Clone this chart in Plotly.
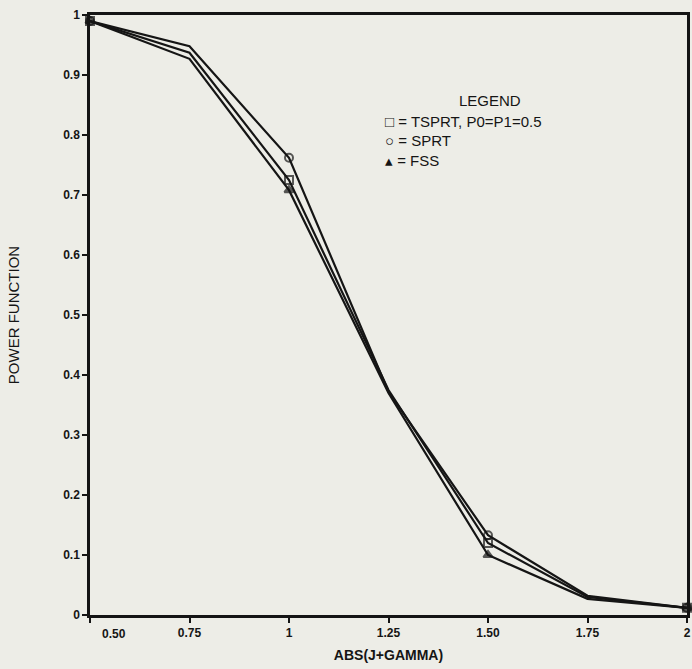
import plotly.graph_objects as go

# Power function of the three test procedures versus |J + GAMMA|
x_vals = [0.5, 0.75, 1.0, 1.25, 1.5, 1.75, 2.0]
tsprt = [0.99, 0.937, 0.725, 0.375, 0.12, 0.030, 0.012]
sprt = [0.99, 0.948, 0.762, 0.372, 0.133, 0.032, 0.012]
fss = [0.99, 0.927, 0.708, 0.370, 0.100, 0.027, 0.012]

x_tickvals = [0.5, 0.75, 1.0, 1.25, 1.5, 1.75, 2.0]
x_ticktext = ["", "0.75", "1", "1.25", "1.50", "1.75", "2"]
y_tickvals = [0, 0.1, 0.2, 0.3, 0.4, 0.5, 0.6, 0.7, 0.8, 0.9, 1.0]
y_ticktext = ["0", "0.1", "0.2", "0.3", "0.4", "0.5", "0.6", "0.7", "0.8", "0.9", "1"]

# symbols are plotted only at every other abscissa
marker_sizes = [8, 0, 8, 0, 8, 0, 8]

INK = "#151515"
BG = "#ededE7"
FAMILY = "Liberation Sans, Arial, sans-serif"

fig = go.Figure()

series = [
    ("TSPRT, P0=P1=0.5", tsprt, "square-open"),
    ("SPRT", sprt, "circle-open"),
    ("FSS", fss, "triangle-up"),
]
for name, vals, sym in series:
    fig.add_trace(go.Scatter(
        x=x_vals, y=vals, name=name, mode="lines+markers",
        line=dict(color=INK, width=2.2),
        marker=dict(symbol=sym, size=marker_sizes, color=INK,
                    line=dict(color=INK, width=2)),
        cliponaxis=False, showlegend=False,
    ))

tick_font = dict(family=FAMILY, size=12, color=INK)

fig.update_xaxes(
    range=[0.5, 2.0], tickvals=x_tickvals,
    ticktext=[f"<b>{t}</b>" if t else "" for t in x_ticktext],
    showline=True, linecolor=INK, linewidth=2.5, mirror=True,
    ticks="outside", ticklen=5, tickwidth=1.5, tickcolor=INK,
    showgrid=False, zeroline=False, tickfont=tick_font,
    title=dict(text="<b>ABS(J+GAMMA)</b>", standoff=12,
               font=dict(family=FAMILY, size=14, color=INK)),
)
fig.update_yaxes(
    range=[0, 1.0], tickvals=y_tickvals,
    ticktext=[f"<b>{t}</b>" for t in y_ticktext],
    showline=True, linecolor=INK, linewidth=2.5, mirror=True,
    ticks="outside", ticklen=5, tickwidth=1.5, tickcolor=INK,
    showgrid=False, zeroline=False, tickfont=tick_font,
    title=dict(text="POWER FUNCTION", standoff=40,
               font=dict(family=FAMILY, size=15, color=INK)),
)

# first x tick label sits right of the corner so it does not collide with "0"
fig.add_annotation(x=0.5, y=0, xref="x", yref="paper", text="<b>0.50</b>",
                   showarrow=False, xanchor="left", yanchor="top",
                   xshift=10, yshift=-10, font=tick_font)

legend_font = dict(family=FAMILY, size=15, color=INK)
fig.add_annotation(x=0.67, y=0.858, xref="paper", yref="paper", text="LEGEND",
                   showarrow=False, xanchor="center", yanchor="middle", font=legend_font)
legend_lines = [
    ("\u25a1 = " + series[0][0], 0.823),
    ("\u25cb = " + series[1][0], 0.790),
    ("\u25b4 = " + series[2][0], 0.758),
]
for text, ypos in legend_lines:
    fig.add_annotation(x=0.49, y=ypos, xref="paper", yref="paper", text=text,
                       showarrow=False, xanchor="left", yanchor="middle", font=legend_font)

fig.update_layout(
    width=692, height=669,
    margin=dict(l=90, r=2, t=15, b=54),
    paper_bgcolor=BG, plot_bgcolor=BG,
    font=dict(family=FAMILY, color=INK),
)

fig.write_html("out.html")
